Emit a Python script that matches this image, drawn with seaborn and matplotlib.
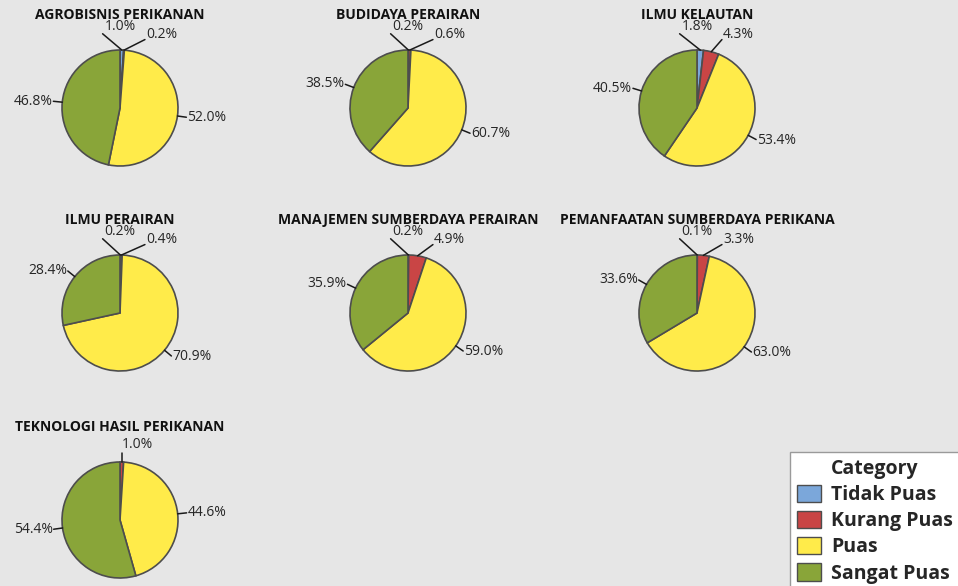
import numpy as np
import pandas as pd
import seaborn as sns
import matplotlib.pyplot as plt
from matplotlib.patches import Patch

# Satisfaction survey per study program (percent)
programs = ["AGROBISNIS PERIKANAN", "BUDIDAYA PERAIRAN", "ILMU KELAUTAN",
            "ILMU PERAIRAN", "MANAJEMEN SUMBERDAYA PERAIRAN",
            "PEMANFAATAN SUMBERDAYA PERIKANA", "TEKNOLOGI HASIL PERIKANAN"]
tidak_puas = [1.0, 0.2, 1.8, 0.2, 0.2, 0.1, 0.0]
kurang_puas = [0.2, 0.6, 4.3, 0.4, 4.9, 3.3, 1.0]
puas = [52.0, 60.7, 53.4, 70.9, 59.0, 63.0, 44.6]
sangat_puas = [46.8, 38.5, 40.5, 28.4, 35.9, 33.6, 54.4]
categories = ["Tidak Puas", "Kurang Puas", "Puas", "Sangat Puas"]

df = pd.DataFrame({"Program": programs, "Tidak Puas": tidak_puas,
                   "Kurang Puas": kurang_puas, "Puas": puas,
                   "Sangat Puas": sangat_puas})

sns.set_theme(style="white")
plt.rcParams['font.family'] = ['Open Sans', 'DejaVu Sans']
palette = sns.color_palette(['#7BA7DA', '#C94545', '#FFEB4A', '#89A539'])

W, H = 958, 586
fig = plt.figure(figsize=(W / 100, H / 100), dpi=100, facecolor='#e6e6e6')
ax = fig.add_axes([0, 0, 1, 1])

R = 58
col_x = [120, 408, 697]
row_y = [108, 313, 520]


def pt(cx, cy, ang, dist):
    a = np.radians(ang)
    return cx + dist * np.sin(a), cy + dist * np.cos(a)


for i, row in df.iterrows():
    cx = col_x[i % 3]
    cy = H - row_y[i // 3]
    vals = row[categories].to_numpy(float)
    ax.pie(vals, center=(cx, cy), radius=R, startangle=90, counterclock=False,
           colors=palette, wedgeprops=dict(edgecolor='#4d4d4d', linewidth=1.2))
    ax.text(cx, cy + R + 35, row['Program'], ha='center', va='center',
            fontsize=10, fontweight='bold', color='#111111')

    total = vals.sum()
    cum = 0
    for j, v in enumerate(vals):
        mid = 360 * (cum + v / 2) / total
        cum += v
        if v == 0:
            continue
        ex, ey = pt(cx, cy, mid, R)
        label = f'{v:.1f}%'
        if v < 6:
            # narrow slices at the top: labels spread above the pie
            if j == 0:
                tx, ty, ha = cx, cy + 1.4 * R, 'center'
                lx, ly = cx - 0.3 * R, cy + 1.28 * R
            elif vals[0] > 0:
                tx, ty, ha = cx + 0.45 * R, cy + 1.26 * R, 'left'
                lx, ly = cx + 0.43 * R, cy + 1.18 * R
            else:
                tx, ty, ha = ex, cy + 1.3 * R, 'left'
                lx, ly = ex, cy + 1.15 * R
        else:
            lx, ly = pt(cx, cy, mid, R + 9)
            tx, ty = pt(cx, cy, mid, R + 10)
            ha = 'left' if np.sin(np.radians(mid)) > 0 else 'right'
        ax.plot([ex, lx], [ey, ly], color='#1a1a1a', lw=1.1)
        ax.text(tx, ty, label, ha=ha, va='center', fontsize=10, color='#262626')

ax.set_xlim(0, W)
ax.set_ylim(0, H)
ax.set_aspect('equal')
ax.axis('off')

handles = [Patch(facecolor=c, edgecolor='#4d4d4d', label=cat)
           for c, cat in zip(palette, categories)]
fig.legend(handles=handles, title='Category', loc='upper left',
           bbox_to_anchor=(790 / W, 1 - 452 / H), frameon=True, fancybox=False,
           edgecolor='#9a9a9a', framealpha=1,
           prop={'weight': 'bold', 'size': 14},
           title_fontproperties={'weight': 'bold', 'size': 14},
           handlelength=1.25, handleheight=1.0, handletextpad=0.5,
           labelspacing=0.3, borderpad=0.35, borderaxespad=0)

fig.savefig('out.png', dpi=100, facecolor=fig.get_facecolor())
